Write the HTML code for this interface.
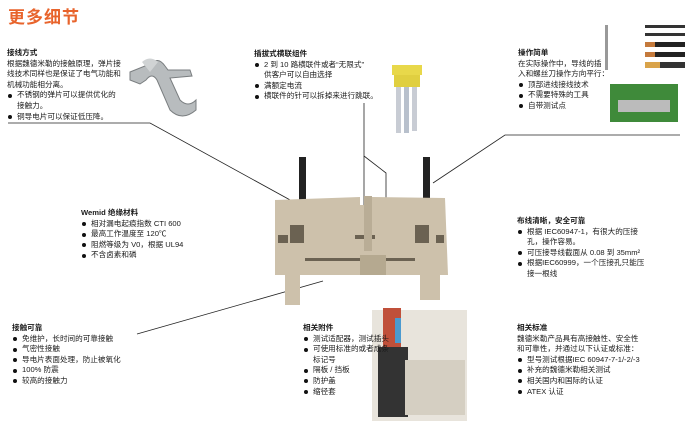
<!DOCTYPE html>
<html><head><meta charset="utf-8"><style>
body{margin:0;width:690px;height:421px;background:#fff;position:relative;overflow:hidden;font-family:"Liberation Sans","Noto Sans CJK SC",sans-serif;color:#1a1a1a}
.t{position:absolute;font-size:7.6px;line-height:10.6px;white-space:nowrap}
.t b{font-weight:bold;display:block}
.b{padding-left:10px;position:relative;display:block}
.b:before{content:"";position:absolute;left:1px;top:3.5px;width:4px;height:4px;border-radius:50%;background:#111}
h1{position:absolute;left:8px;top:3px;margin:0;font-size:17px;color:#e8642c;font-weight:bold;letter-spacing:1px;font-family:"Liberation Sans","Noto Sans CJK SC",sans-serif}
svg{position:absolute;left:0;top:0}
</style></head><body>
<h1>更多细节</h1>
<svg width="690" height="421">
<!-- clip -->
<path d="M130 72 L150 64 Q158 56 165 66 L168 70 L190 70 L192 76 L170 78 L180 100 Q188 108 196 100 L196 110 Q182 122 170 110 L157 80 Q152 72 146 80 L140 84 L130 80 Z" fill="#b8bcbe" stroke="#7a7e80" stroke-width="1"/>
<path d="M142 62 Q150 55 158 62 L150 72 Z" fill="#d0d3d4"/>
<!-- jumper -->
<rect x="392" y="65" width="30" height="10" fill="#e8d84a"/>
<rect x="394" y="75" width="26" height="12" fill="#e0cf40"/>
<rect x="396" y="87" width="5" height="46" fill="#c8ccd4"/>
<rect x="404" y="87" width="5" height="46" fill="#b8c0cc"/>
<rect x="412" y="87" width="5" height="44" fill="#c8ccd4"/>
<!-- green block -->
<rect x="605" y="25" width="3" height="45" fill="#999"/>
<rect x="645" y="25" width="40" height="3" fill="#333"/>
<rect x="645" y="33" width="40" height="3" fill="#333"/>
<rect x="645" y="42" width="40" height="5" fill="#c47a3c"/>
<rect x="655" y="42" width="30" height="5" fill="#222"/>
<rect x="645" y="52" width="40" height="5" fill="#c47a3c"/>
<rect x="655" y="52" width="30" height="5" fill="#222"/>
<rect x="645" y="62" width="40" height="6" fill="#d9a34a"/>
<rect x="660" y="62" width="25" height="6" fill="#333"/>
<rect x="610" y="84" width="68" height="38" fill="#3f8a3a"/>
<rect x="618" y="100" width="52" height="12" fill="#bbb"/>
<!-- lines -->
<g stroke="#222" stroke-width=".8" fill="none">
<polyline points="8,123 150,123 312,212"/>
<line x1="364" y1="103" x2="364" y2="207"/>
<polyline points="364,156 386,173 386,207"/>
<polyline points="680,135 505,135 433,183"/>
<line x1="137" y1="334" x2="323" y2="281"/>
</g>
<!-- terminal block -->
<rect x="299" y="157" width="7" height="45" fill="#222"/>
<rect x="423" y="157" width="7" height="45" fill="#222"/>
<path d="M275 200 L360 197 L360 205 L372 205 L372 197 L445 198 L448 275 L440 275 L440 300 L420 300 L420 275 L300 275 L300 305 L285 305 L285 275 L275 275 Z" fill="#cdc1ab"/>
<g fill="#6b6252">
<rect x="290" y="225" width="14" height="18"/><rect x="415" y="225" width="14" height="18"/>
<rect x="278" y="235" width="10" height="8"/><rect x="436" y="235" width="8" height="8"/>
<rect x="355" y="235" width="20" height="4"/>
<rect x="305" y="258" width="110" height="3"/>
</g>
<rect x="364" y="196" width="8" height="55" fill="#b9ad96"/>
<rect x="360" y="255" width="26" height="20" fill="#b5a990"/>
<!-- plug photo -->
<rect x="372" y="310" width="95" height="111" fill="#e8e4dc"/>
<rect x="383" y="308" width="18" height="42" fill="#c0503a"/>
<rect x="395" y="318" width="6" height="25" fill="#4a9ad0"/>
<rect x="378" y="347" width="30" height="70" fill="#333"/>
<rect x="405" y="360" width="60" height="55" fill="#d5cfc2"/>
</svg>

<div class="t" style="left:7px;top:48px"><b>接线方式</b>根据魏德米勒的接触原理，弹片接<br>线技术同样也是保证了电气功能和<br>机械功能相分离。<span class="b">不锈钢的弹片可以提供优化的<br>接触力。</span><span class="b">铜导电片可以保证低压降。</span></div>

<div class="t" style="left:254px;top:49px"><b>插拔式横联组件</b><span class="b">2 到 10 路横联件或者“无限式”<br>供客户可以自由选择</span><span class="b">满额定电流</span><span class="b">横联件的针可以拆掉来进行跳联。</span></div>

<div class="t" style="left:518px;top:48px"><b>操作简单</b>在实际操作中，导线的插<br>入和螺丝刀操作方向平行：<span class="b">顶部进线接线技术</span><span class="b">不需要特殊的工具</span><span class="b">自带测试点</span></div>

<div class="t" style="left:81px;top:208px"><b>Wemid 绝缘材料</b><span class="b">相对漏电起痕指数 CTI 600</span><span class="b">最高工作温度至 120℃</span><span class="b">阻燃等级为 V0，根据 UL94</span><span class="b">不含卤素和磷</span></div>

<div class="t" style="left:517px;top:216px"><b>布线清晰，安全可靠</b><span class="b">根据 IEC60947-1，有很大的压接<br>孔，操作容易。</span><span class="b">可压接导线截面从 0.08 到 35mm²</span><span class="b">根据IEC60999，一个压接孔只能压<br>接一根线</span></div>

<div class="t" style="left:12px;top:323px"><b>接触可靠</b><span class="b">免维护，长时间的可靠接触</span><span class="b">气密性接触</span><span class="b">导电片表面处理，防止被氧化</span><span class="b">100% 防震</span><span class="b">较高的接触力</span></div>

<div class="t" style="left:303px;top:323px"><b>相关附件</b><span class="b">测试适配器，测试插头</span><span class="b">可使用标准的或者成条<br>标记号</span><span class="b">隔板 / 挡板</span><span class="b">防护盖</span><span class="b">缩径套</span></div>

<div class="t" style="left:517px;top:323px"><b>相关标准</b>魏德米勒产品具有高接触性、安全性<br>和可靠性，并通过以下认证或标准：<span class="b">型号测试根据IEC 60947-7-1/-2/-3</span><span class="b">补充的魏德米勒相关测试</span><span class="b">相关国内和国际的认证</span><span class="b">ATEX 认证</span></div>
</body></html>
